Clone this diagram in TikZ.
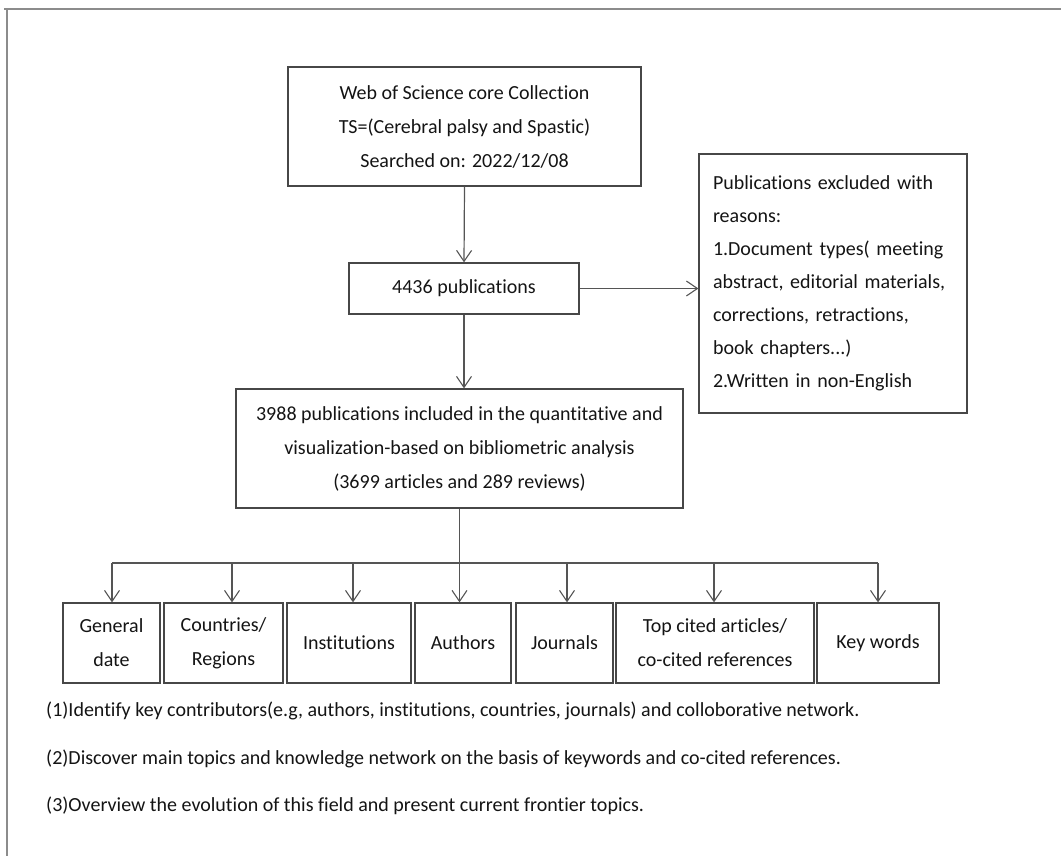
\documentclass[tikz,border=0pt]{standalone}
\usepackage{fontspec}
\setmainfont{Carlito}[Ligatures={NoCommon}]
\usetikzlibrary{arrows.meta}
\definecolor{boxc}{HTML}{474747}
\definecolor{linec}{HTML}{555555}
\definecolor{framec}{HTML}{8C8C8C}
\definecolor{txt}{HTML}{141414}
\begin{document}
\begin{tikzpicture}[x=1pt,y=-1pt,
  box/.style={draw=boxc, line width=1.3pt, rectangle, inner sep=0pt, align=center,
    font=\fontsize{20}{34}\selectfont, text=txt},
  conn/.style={draw=linec, line width=1.2pt},
  arr/.style={conn, -{Straight Barb[length=11pt,width=15pt,line width=1.1pt]}},
  note/.style={anchor=west, inner sep=0pt, font=\fontsize{20}{24}\selectfont, text=txt}]
\useasboundingbox (0,0) rectangle (1061,856);
% frame
\draw[framec, line width=2pt] (4,9) -- (1061,9);
\draw[framec, line width=2pt] (7,9) -- (7,856);
% main boxes
\node[box, minimum width=353pt, minimum height=119pt] (top) at (464.5,126.5)
  {Web of Science core Collection\\TS=(Cerebral palsy and Spastic)\\Searched on: 2022/12/08};
\node[box, minimum width=230pt, minimum height=51pt] (pub) at (464,288.5) {4436 publications};
\node[box, minimum width=268pt, minimum height=259pt, text width=240pt, inner xsep=14pt, align=left,
  font=\fontsize{20}{33}\selectfont] (excl) at (833,283.5)
  {Publications excluded with\\reasons:\\1.Document types( meeting\\abstract, editorial materials,\\corrections, retractions,\\book chapters...)\\2.Written in non-English};
\node[box, minimum width=447pt, minimum height=119pt] (inc) at (459.5,448.5)
  {3988 publications included in the quantitative and\\visualization-based on bibliometric analysis\\(3699 articles and 289 reviews)};
% bottom boxes
\node[box, minimum width=97pt, minimum height=80pt] (b1) at (111.5,643) {General\\date};
\node[box, minimum width=119pt, minimum height=80pt] (b2) at (223.5,643) {Countries/\\Regions};
\node[box, minimum width=124pt, minimum height=80pt] (b3) at (349,643) {Institutions};
\node[box, minimum width=96pt, minimum height=80pt] (b4) at (463,643) {Authors};
\node[box, minimum width=97pt, minimum height=80pt] (b5) at (564.5,643) {Journals};
\node[box, minimum width=198pt, minimum height=80pt] (b6) at (715,643) {Top cited articles/\\co-cited references};
\node[box, minimum width=122pt, minimum height=80pt] (b7) at (878,643) {Key words};
% connectors
\draw[arr] (top.south) -- (pub.north);
\draw[arr] (pub.east) -- (pub.east -| excl.west);
\draw[arr] (pub.south) -- (pub.south |- inc.north);
\draw[arr] (inc.south) -- (inc.south |- b4.north);
\coordinate (a1) at (112,563);
\coordinate (a2) at (232,563);
\coordinate (a3) at (353,563);
\coordinate (a5) at (567,563);
\coordinate (a6) at (714,563);
\coordinate (a7) at (878,563);
\draw[conn] (a1) -- (a7);
\draw[arr] (a1) -- (a1 |- b1.north);
\draw[arr] (a2) -- (a2 |- b2.north);
\draw[arr] (a3) -- (a3 |- b3.north);
\draw[arr] (a5) -- (a5 |- b5.north);
\draw[arr] (a6) -- (a6 |- b6.north);
\draw[arr] (a7) -- (a7 |- b7.north);
% notes
\node[note] (n1) at (46,711) {(1)Identify key contributors(e.g, authors, institutions, countries, journals) and colloborative network.};
\node[note] (n2) at (46,759) {(2)Discover main topics and knowledge network on the basis of keywords and co-cited references.};
\node[note] (n3) at (46,806) {(3)Overview the evolution of this field and present current frontier topics.};
\end{tikzpicture}
\end{document}
